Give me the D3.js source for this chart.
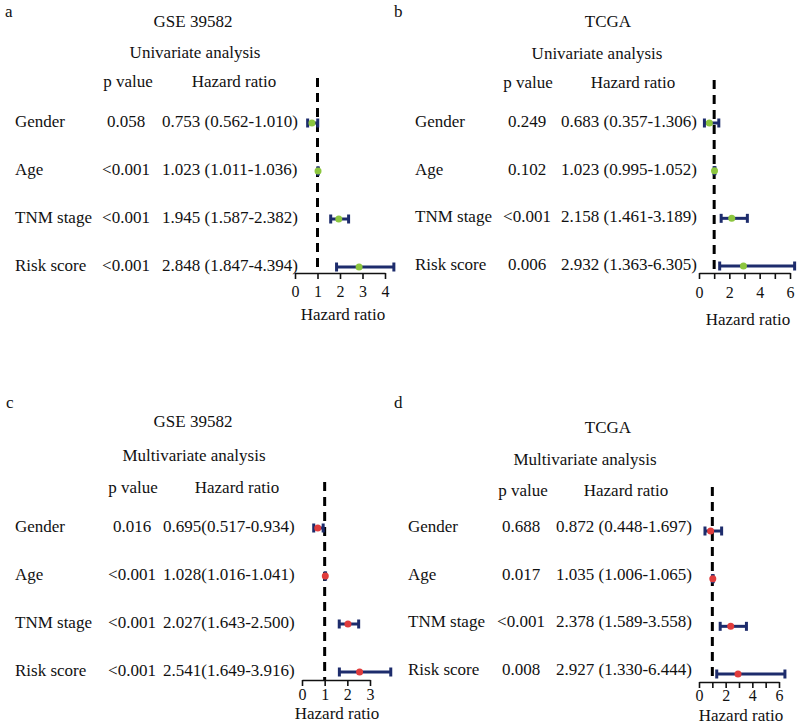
<!DOCTYPE html>
<html>
<head>
<meta charset="utf-8">
<script src="https://cdn.jsdelivr.net/npm/d3@7"></script>
<style>
  html, body { margin: 0; padding: 0; background: #fff; }
  svg { display: block; }
  text { font-family: "Liberation Serif", "Times New Roman", serif; fill: #111; }
</style>
</head>
<body>
<svg id="chart" width="800" height="725"></svg>
<script>
// ---------------- DATA ----------------
const variables = ["Gender", "Age", "TNM stage", "Risk score"];

// a: GSE 39582 univariate
const uniGseP  = ["0.058", "<0.001", "<0.001", "<0.001"];
const uniGseHR = [0.753, 1.023, 1.945, 2.848];
const uniGseLo = [0.562, 1.011, 1.587, 1.847];
const uniGseHi = [1.010, 1.036, 2.382, 4.394];

// b: TCGA univariate
const uniTcgaP  = ["0.249", "0.102", "<0.001", "0.006"];
const uniTcgaHR = [0.683, 1.023, 2.158, 2.932];
const uniTcgaLo = [0.357, 0.995, 1.461, 1.363];
const uniTcgaHi = [1.306, 1.052, 3.189, 6.305];

// c: GSE 39582 multivariate
const multiGseP  = ["0.016", "<0.001", "<0.001", "<0.001"];
const multiGseHR = [0.695, 1.028, 2.027, 2.541];
const multiGseLo = [0.517, 1.016, 1.643, 1.649];
const multiGseHi = [0.934, 1.041, 2.500, 3.916];

// d: TCGA multivariate
const multiTcgaP  = ["0.688", "0.017", "<0.001", "0.008"];
const multiTcgaHR = [0.872, 1.035, 2.378, 2.927];
const multiTcgaLo = [0.448, 1.006, 1.589, 1.330];
const multiTcgaHi = [1.697, 1.065, 3.558, 6.444];

const ticksA = [0, 1, 2, 3, 4];
const ticksB = [0, 1, 2, 3, 4, 5, 6];
const ticksC = [0, 1, 2, 3];
const ticksD = [0, 1, 2, 3, 4, 5, 6];
const labeledB = [0, 2, 4, 6];
const labeledD = [0, 2, 4, 6];

const panelLetters = ["a", "b", "c", "d"];
const cohortTitles = ["GSE 39582", "TCGA", "GSE 39582", "TCGA"];
const analysisTitles = ["Univariate analysis", "Univariate analysis", "Multivariate analysis", "Multivariate analysis"];

// ---------------- STYLE / LAYOUT ----------------
const FS = 17;
const TICK_FS = 16;
const barColor = "#1d2c6c";
const uniPoint = "#8cc63f";
const multiPoint = "#e03c3c";

const svg = d3.select("#chart");

const panels = [
  { letter: panelLetters[0], title: cohortTitles[0], sub: analysisTitles[0],
    p: uniGseP, hr: uniGseHR, lo: uniGseLo, hi: uniGseHi, sep: " ", pointColor: uniPoint,
    ticks: ticksA, labeled: ticksA,
    letterPos: [5, 17], titleX: 193, titleY: 27, subX: 195, subY: 58, headY: 87,
    pHeadX: 128, hrHeadX: 234, labelX: 15, pX: 126, hrX: 162,
    rows: [123, 267], textDy: 4, xRange: [295, 385], axisY: 273, dashTop: 78,
    tickPad: 7, axTitleX: 343, axTitleY: 320 },
  { letter: panelLetters[1], title: cohortTitles[1], sub: analysisTitles[1],
    p: uniTcgaP, hr: uniTcgaHR, lo: uniTcgaLo, hi: uniTcgaHi, sep: " ", pointColor: uniPoint,
    ticks: ticksB, labeled: labeledB,
    letterPos: [394, 17], titleX: 608, titleY: 27, subX: 597, subY: 59, headY: 88,
    pHeadX: 528, hrHeadX: 633, labelX: 415, pX: 527, hrX: 561,
    rows: [123, 266], textDy: 4, xRange: [699, 790], axisY: 273, dashTop: 80,
    tickPad: 8, axTitleX: 748, axTitleY: 325 },
  { letter: panelLetters[2], title: cohortTitles[2], sub: analysisTitles[2],
    p: multiGseP, hr: multiGseHR, lo: multiGseLo, hi: multiGseHi, sep: "", pointColor: multiPoint,
    ticks: ticksC, labeled: ticksC,
    letterPos: [6, 408], titleX: 193, titleY: 427, subX: 194, subY: 461, headY: 493,
    pHeadX: 133, hrHeadX: 237, labelX: 15, pX: 132, hrX: 163,
    rows: [528, 672], textDy: 4, xRange: [302, 370], axisY: 680, dashTop: 482,
    tickPad: 3, axTitleX: 337, axTitleY: 719 },
  { letter: panelLetters[3], title: cohortTitles[3], sub: analysisTitles[3],
    p: multiTcgaP, hr: multiTcgaHR, lo: multiTcgaLo, hi: multiTcgaHi, sep: " ", pointColor: multiPoint,
    ticks: ticksD, labeled: labeledD,
    letterPos: [394, 408], titleX: 608, titleY: 433, subX: 585, subY: 465, headY: 496,
    pHeadX: 523, hrHeadX: 626, labelX: 408, pX: 521, hrX: 556,
    rows: [531, 674], textDy: 1, xRange: [699, 779], axisY: 682, dashTop: 487,
    tickPad: 2, axTitleX: 741, axTitleY: 720.5 }
];

const fmt = d3.format(".3f");

panels.forEach(P => {
  const g = svg.append("g");
  const x = d3.scaleLinear().domain([P.ticks[0], P.ticks[P.ticks.length - 1]]).range(P.xRange);
  const y = d3.scalePoint().domain(variables).range(P.rows);

  // panel letter
  g.append("text").attr("x", P.letterPos[0]).attr("y", P.letterPos[1])
    .attr("font-size", FS).text(P.letter);
  // titles
  g.append("text").attr("x", P.titleX).attr("y", P.titleY).attr("text-anchor", "middle")
    .attr("font-size", FS).text(P.title);
  g.append("text").attr("x", P.subX).attr("y", P.subY).attr("text-anchor", "middle")
    .attr("font-size", FS).text(P.sub);
  g.append("text").attr("x", P.pHeadX).attr("y", P.headY).attr("text-anchor", "middle")
    .attr("font-size", FS).text("p value");
  g.append("text").attr("x", P.hrHeadX).attr("y", P.headY).attr("text-anchor", "middle")
    .attr("font-size", FS).text("Hazard ratio");

  // row texts
  variables.forEach((v, i) => {
    const ty = y(v) + P.textDy;
    g.append("text").attr("x", P.labelX).attr("y", ty).attr("font-size", FS).text(v);
    g.append("text").attr("x", P.pX).attr("y", ty).attr("text-anchor", "middle")
      .attr("font-size", FS).text(P.p[i]);
    g.append("text").attr("x", P.hrX).attr("y", ty).attr("font-size", FS)
      .text(fmt(P.hr[i]) + P.sep + "(" + fmt(P.lo[i]) + "-" + fmt(P.hi[i]) + ")");
  });

  // dashed reference line at HR = 1
  g.append("line")
    .attr("x1", x(1)).attr("x2", x(1))
    .attr("y1", P.dashTop).attr("y2", P.axisY)
    .attr("stroke", "#000").attr("stroke-width", 3)
    .attr("stroke-dasharray", "9,6");

  // axis
  const axis = d3.axisBottom(x)
    .tickValues(P.ticks)
    .tickSize(6)
    .tickSizeOuter(0)
    .tickPadding(P.tickPad)
    .tickFormat(d => P.labeled.includes(d) ? String(d) : "");
  const ag = g.append("g").attr("transform", `translate(0,${P.axisY})`).call(axis);
  ag.select(".domain").attr("stroke", "#111").attr("stroke-width", 1.6);
  ag.selectAll(".tick line").attr("stroke", "#111").attr("stroke-width", 1.6);
  ag.selectAll(".tick text")
    .attr("font-family", "Liberation Serif, Times New Roman, serif")
    .attr("font-size", TICK_FS).attr("fill", "#111");

  g.append("text").attr("x", P.axTitleX).attr("y", P.axTitleY).attr("text-anchor", "middle")
    .attr("font-size", FS).text("Hazard ratio");

  // error bars
  const capH = 9;
  variables.forEach((v, i) => {
    const cy = y(v);
    g.append("line").attr("x1", x(P.lo[i])).attr("x2", x(P.hi[i]))
      .attr("y1", cy).attr("y2", cy)
      .attr("stroke", barColor).attr("stroke-width", 3);
    [P.lo[i], P.hi[i]].forEach(e => {
      g.append("line").attr("x1", x(e)).attr("x2", x(e))
        .attr("y1", cy - capH / 2).attr("y2", cy + capH / 2)
        .attr("stroke", barColor).attr("stroke-width", 3);
    });
    g.append("circle").attr("cx", x(P.hr[i])).attr("cy", cy).attr("r", 3.5)
      .attr("fill", P.pointColor);
  });
});
</script>
</body>
</html>
